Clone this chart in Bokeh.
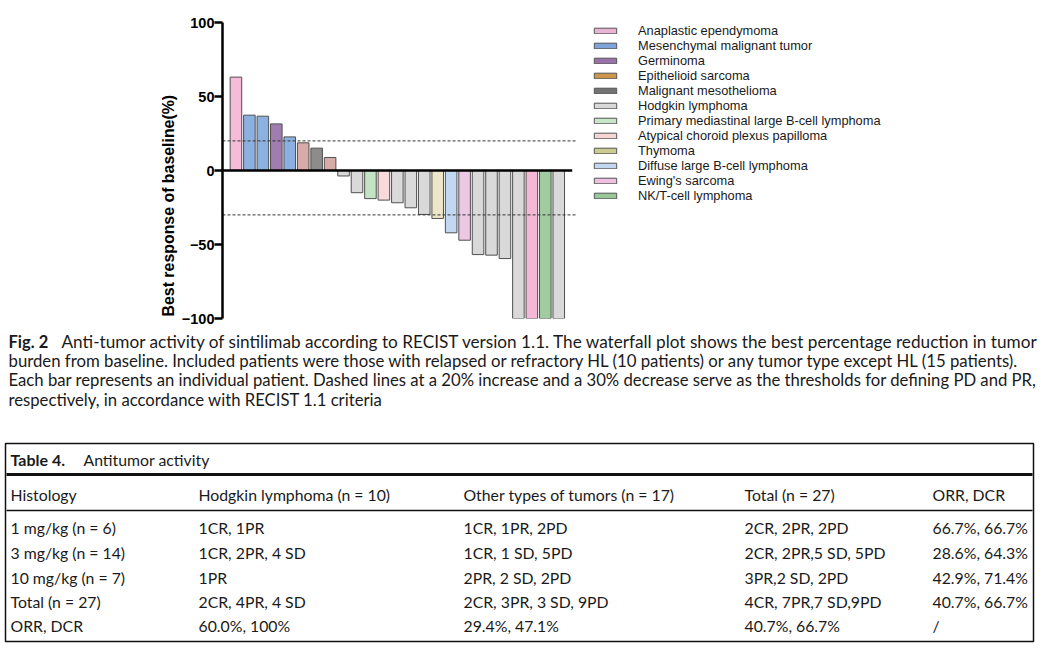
from bokeh.plotting import figure
from bokeh.models import Range1d, FixedTicker, Legend, LegendItem, Title, ColumnDataSource
from bokeh.embed import file_html
from bokeh.resources import INLINE
from bokeh.core.properties import value

# ---------------- data ----------------
responses = [63.1, 37.4, 36.7, 31.5, 22.7, 18.7, 15.1, 8.8, -3.7, -15.0, -19.0, -20.0,
             -21.8, -25.2, -29.7, -32.4, -42.1, -47.1, -56.8, -57.2, -59.5,
             -100, -100, -100, -100]
bar_types = ["Anaplastic ependymoma", "Mesenchymal malignant tumor", "Mesenchymal malignant tumor",
             "Germinoma", "Mesenchymal malignant tumor", "Epithelioid sarcoma", "Malignant mesothelioma",
             "Epithelioid sarcoma", "Hodgkin lymphoma", "Hodgkin lymphoma",
             "Primary mediastinal large B-cell lymphoma", "Atypical choroid plexus papilloma",
             "Hodgkin lymphoma", "Hodgkin lymphoma", "Hodgkin lymphoma", "Thymoma",
             "Diffuse large B-cell lymphoma", "Ewing's sarcoma", "Hodgkin lymphoma", "Hodgkin lymphoma",
             "Hodgkin lymphoma", "Hodgkin lymphoma", "Anaplastic ependymoma", "NK/T-cell lymphoma",
             "Hodgkin lymphoma"]
bar_colors = ["#f4bcd8", "#8cb0e0", "#8cb0e0", "#a07cb0", "#8cb0e0", "#d8aaa8", "#8c8c8c",
              "#d8aaa8", "#d9d9d9", "#d9d9d9", "#c4e2c4", "#f8dada", "#d9d9d9", "#d9d9d9",
              "#d9d9d9", "#ede6c8", "#c2d8f0", "#ecc8e4", "#d9d9d9", "#d9d9d9", "#d9d9d9",
              "#d9d9d9", "#f2b8d6", "#a0cca0", "#d9d9d9"]
legend_labels = ["Anaplastic ependymoma", "Mesenchymal malignant tumor", "Germinoma",
                 "Epithelioid sarcoma", "Malignant mesothelioma", "Hodgkin lymphoma",
                 "Primary mediastinal large B-cell lymphoma", "Atypical choroid plexus papilloma",
                 "Thymoma", "Diffuse large B-cell lymphoma", "Ewing's sarcoma", "NK/T-cell lymphoma"]
legend_colors = ["#eab4d4", "#7ea4d8", "#9a72aa", "#cc964c", "#737373", "#d8d8d8",
                 "#c8e6c8", "#f8d4d4", "#cccc90", "#c2d8f0", "#f0c0e0", "#98c898"]
thresholds = [20, -30]
y_ticks = [-100, -50, 0, 50, 100]
y_label = "Best response of baseline(%)"

caption_bold = "Fig. 2"
caption_lines = [
    "Anti-tumor activity of sintilimab according to RECIST version 1.1. The waterfall plot shows the best percentage reduction in tumor",
    "burden from baseline. Included patients were those with relapsed or refractory HL (10 patients) or any tumor type except HL (15 patients).",
    "Each bar represents an individual patient. Dashed lines at a 20% increase and a 30% decrease serve as the thresholds for defining PD and PR,",
    "respectively, in accordance with RECIST 1.1 criteria",
]
table_label = "Table 4."
table_title = "Antitumor activity"
table_header = ["Histology", "Hodgkin lymphoma (n = 10)", "Other types of tumors (n = 17)",
                "Total (n = 27)", "ORR, DCR"]
table_rows = [
    ["1 mg/kg (n = 6)", "1CR, 1PR", "1CR, 1PR, 2PD", "2CR, 2PR, 2PD", "66.7%, 66.7%"],
    ["3 mg/kg (n = 14)", "1CR, 2PR, 4 SD", "1CR, 1 SD, 5PD", "2CR, 2PR,5 SD, 5PD", "28.6%, 64.3%"],
    ["10 mg/kg (n = 7)", "1PR", "2PR, 2 SD, 2PD", "3PR,2 SD,  2PD", "42.9%, 71.4%"],
    ["Total (n = 27)", "2CR, 4PR, 4 SD", "2CR, 3PR, 3 SD, 9PD", "4CR, 7PR,7 SD,9PD", "40.7%, 66.7%"],
    ["ORR, DCR", "60.0%, 100%", "29.4%, 47.1%", "40.7%, 66.7%", "/"],
]

# ---------------- chart ----------------
PITCH = 13.45
LEFT = 222
W = 1046
FRAME_W = W - LEFT
n = len(responses)

p = figure(width=W, height=325, x_range=Range1d(0, FRAME_W / PITCH), y_range=Range1d(-100, 100),
           output_backend="svg", toolbar_location=None,
           min_border_left=LEFT, min_border_right=0, min_border_top=22, min_border_bottom=7)
p.outline_line_color = None
p.xgrid.visible = False
p.ygrid.visible = False
p.xaxis.visible = False

yax = p.yaxis[0]
yax.ticker = FixedTicker(ticks=y_ticks)
yax.axis_line_width = 2.5
yax.axis_line_color = "black"
yax.major_tick_line_width = 2.5
yax.major_tick_line_color = "black"
yax.major_tick_out = 8
yax.major_tick_in = 0
yax.minor_tick_line_color = None
yax.major_label_standoff = 0
yax.major_label_text_font = "Liberation Sans"
yax.major_label_text_font_style = "bold"
yax.major_label_text_font_size = "14.5px"
yax.major_label_text_color = "black"

p.add_layout(Title(text=y_label, align="left", offset=2, standoff=4,
                   text_font="Liberation Sans", text_font_size="15.9px",
                   text_font_style="bold", text_color="black"), "left")

src = ColumnDataSource(dict(x=list(range(1, n + 1)), top=responses, color=bar_colors, kind=bar_types))
p.vbar(x="x", top="top", bottom=0, width=0.86, fill_color="color", line_color="#505050",
       line_width=1, source=src)

p.segment(x0=[0] * len(thresholds), y0=thresholds, x1=[n + 1.25] * len(thresholds), y1=thresholds,
          line_color="#333333", line_width=1, line_dash="3 2")
p.segment(x0=[0], y0=[0], x1=[n + 1], y1=[0], line_color="black", line_width=2.5)

items = []
for lab, col in zip(legend_labels, legend_colors):
    r = p.vbar(x=[0], top=[0], width=0.8, fill_color=col, line_color="#555555", line_width=1,
               visible=False)
    items.append(LegendItem(label=lab, renderers=[r]))
legend = Legend(items=items, location=(369, 115), padding=0, margin=0, spacing=0,
                glyph_width=28, glyph_height=7, label_height=15, label_standoff=19,
                label_text_font="Liberation Sans", label_text_font_size="12.8px",
                label_text_color="#1a1a1a", background_fill_alpha=0, border_line_alpha=0)
p.add_layout(legend)

# ---------------- caption + table ----------------
q = figure(width=W, height=329, x_range=Range1d(0, W), y_range=Range1d(654, 325),
           output_backend="svg", toolbar_location=None,
           min_border_left=0, min_border_right=0, min_border_top=0, min_border_bottom=0)
q.outline_line_color = None
q.xgrid.visible = False
q.ygrid.visible = False
q.xaxis.visible = False
q.yaxis.visible = False

FONT = value("Lato")
TXT = "#1a1a1a"
cap_src = ColumnDataSource(dict(x=[61, 8, 8, 8], y=[341, 360, 379.5, 399], text=caption_lines,
                                size=["17.2px", "16.75px", "16.7px", "16.7px"]))
q.text(x=[8], y=[341], text=[caption_bold], text_font=FONT, text_font_style="bold",
       text_font_size=value("16.5px"), text_baseline="middle", text_color=TXT)
q.text(x="x", y="y", text="text", text_font_size="size", text_font=FONT,
       text_baseline="middle", text_color=TXT, source=cap_src)

# table frame and rules
q.quad(left=[5], right=[1033], top=[443], bottom=[641], fill_color=None,
       line_color="#111111", line_width=1.5)
q.segment(x0=[6], y0=[474], x1=[1032], y1=[474], line_color="#111111", line_width=3)
q.segment(x0=[6], y0=[510], x1=[1032], y1=[510], line_color="#111111", line_width=1.5)

q.text(x=[10], y=[459], text=[table_label], text_font=FONT, text_font_style="bold",
       text_font_size=value("16px"), text_baseline="middle", text_color=TXT)
q.text(x=[83], y=[459], text=[table_title], text_font=FONT,
       text_font_size=value("15.8px"), text_baseline="middle", text_color=TXT)

col_x = [10, 198, 463, 744, 932]
row_y = [494, 527, 552, 577, 601, 625]
cx, cy, ct = [], [], []
for ry, row in zip(row_y, [table_header] + table_rows):
    for xx, cell in zip(col_x, row):
        cx.append(xx)
        cy.append(ry)
        ct.append(cell)
q.text(x=cx, y=cy, text=ct, text_font=FONT, text_font_size=value("15.8px"),
       text_baseline="middle", text_color=TXT)

open("out.html", "w").write(file_html([p, q], INLINE))
